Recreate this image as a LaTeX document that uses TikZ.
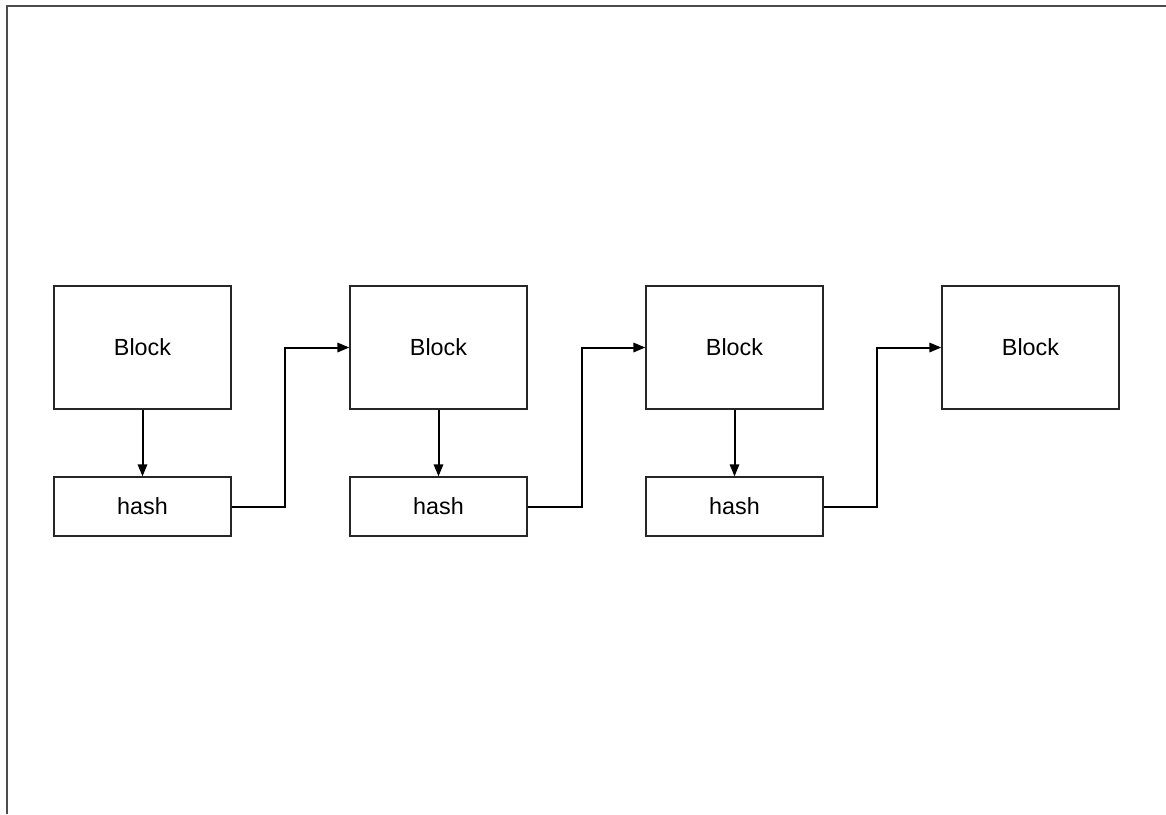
\documentclass[tikz,border=0pt]{standalone}
\usepackage{fontspec}
\setmainfont{Liberation Sans}
\usetikzlibrary{arrows.meta}
\begin{document}
\begin{tikzpicture}[x=0.75pt,y=-0.75pt,
  box/.style={draw=black!85, line width=0.85pt, inner sep=0pt,
    font=\fontsize{17.5}{21}\selectfont, minimum width=132.75pt},
  blockbox/.style={box, minimum height=92.25pt},
  hashbox/.style={box, minimum height=44.25pt},
  link/.style={draw=black, line width=1.5pt, -{Triangle[length=9pt,width=7pt]}}]
\useasboundingbox (0,0) rectangle (1166,814);
\draw[black!70, line width=1.5pt] (7,814) -- (7,6) -- (1166,6);
\node[blockbox] (b1) at (142.5,347.5) {Block};
\node[blockbox] (b2) at (438.5,347.5) {Block};
\node[blockbox] (b3) at (734.5,347.5) {Block};
\node[blockbox] (b4) at (1030.5,347.5) {Block};
\node[hashbox] (h1) at (142.5,506.5) {hash};
\node[hashbox] (h2) at (438.5,506.5) {hash};
\node[hashbox] (h3) at (734.5,506.5) {hash};
\draw[link] (b1.south) -- (h1.north);
\draw[link] (b2.south) -- (h2.north);
\draw[link] (b3.south) -- (h3.north);
\draw[link] (h1.east) -- ++(53,0) |- (b2.west);
\draw[link] (h2.east) -- ++(54,0) |- (b3.west);
\draw[link] (h3.east) -- ++(53,0) |- (b4.west);
\end{tikzpicture}
\end{document}
